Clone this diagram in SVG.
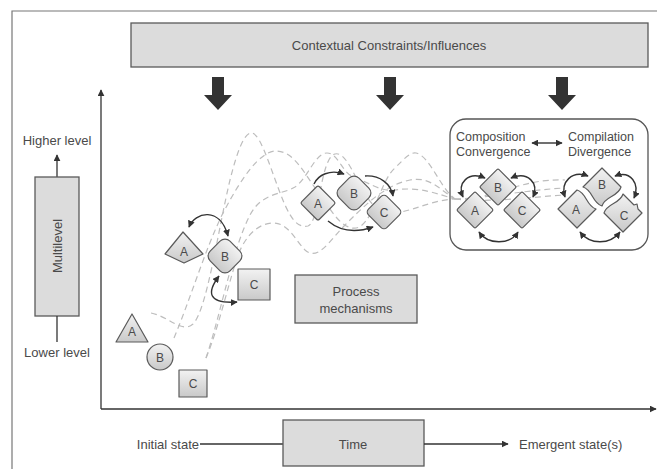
<svg xmlns="http://www.w3.org/2000/svg" width="657" height="469" viewBox="0 0 657 469">
<style>
  text { font-family: "Liberation Sans", Arial, sans-serif; fill: #4a4a4a; }
  .lbl { font-size: 13px; text-anchor: middle; }
  .nl { font-size: 12px; text-anchor: middle; }
  .box { fill: #dcdcdc; stroke: #5a5a5a; stroke-width: 1.3; }
  .node { fill: url(#g); stroke: #5a5a5a; stroke-width: 1.2; stroke-linejoin: round; }
  .dash { fill: none; stroke: #bdbdbd; stroke-width: 1.2; stroke-dasharray: 6 4; }
  .conn { fill: none; stroke: #333; stroke-width: 1.4; }
  .axis { fill: none; stroke: #333; stroke-width: 1.3; }
  .big { fill: #333; }
</style>
<defs>
  <linearGradient id="g" x1="0" y1="0" x2="0" y2="1">
    <stop offset="0" stop-color="#f2f2f2"/>
    <stop offset="1" stop-color="#c9c9c9"/>
  </linearGradient>
  <marker id="ah" viewBox="0 0 10 10" refX="9" refY="5" markerWidth="7" markerHeight="7" markerUnits="userSpaceOnUse" orient="auto-start-reverse">
    <path d="M0,0 L10,5 L0,10 z" fill="#333"/>
  </marker>
</defs>

<!-- outer frame -->
<path d="M12,469 V11 H657" fill="none" stroke="#777" stroke-width="1.2"/>

<g id="context">
  <rect class="box" x="131" y="23" width="517" height="44"/>
  <text class="lbl" x="389" y="49.5">Contextual Constraints/Influences</text>
</g>

<g id="influence-arrows">
  <path class="big" d="M212,77 H224 V95 H232 L218,110 L204,95 H212 Z"/>
  <path class="big" d="M384,77 H396 V95 H404 L390,110 L376,95 H384 Z"/>
  <path class="big" d="M556,77 H568 V95 H576 L562,110 L548,95 H556 Z"/>
</g>

<g id="multilevel">
  <text class="lbl" x="57" y="145">Higher level</text>
  <line class="axis" x1="57" y1="177" x2="57" y2="155" marker-end="url(#ah)"/>
  <rect class="box" x="35" y="177" width="44" height="139"/>
  <text class="lbl" transform="rotate(-90 57 246)" x="57" y="250.5">Multilevel</text>
  <line class="axis" x1="57" y1="316" x2="57" y2="342"/>
  <text class="lbl" x="57" y="356.5">Lower level</text>
</g>

<g id="axes">
  <line class="axis" x1="101" y1="409" x2="101" y2="90" marker-end="url(#ah)"/>
  <line class="axis" x1="101" y1="409" x2="656" y2="409" marker-end="url(#ah)"/>
</g>

<g id="trajectories">
  <path class="dash" d="M151,313 C168,316 182,334 193,324 C207,310 218,230 230,180 C238,148 245,132 252,133 C262,135 272,175 285,205 C292,220 298,228 308,226 C320,222 320,158 335,154 C350,150 360,200 380,210 C400,220 425,200 455,199"/>
  <path class="dash" d="M174,338 C190,300 205,250 222,215 C240,180 260,150 277,151 C295,152 305,175 318,192 C330,208 338,225 352,228 C372,232 380,180 395,168 C405,158 410,152 416,153 C430,156 440,188 455,199"/>
  <path class="dash" d="M206,358 C218,330 228,285 238,255 C246,235 258,224 272,223 C288,222 295,240 305,250 C318,262 330,240 345,225 C365,205 385,185 410,180 C430,176 440,190 455,199"/>
  <path class="dash" d="M206,358 C222,310 232,250 250,215 C262,192 282,195 295,187 C308,178 315,153 327,153 C338,153 342,172 352,176 C368,182 380,192 395,190 C420,186 440,195 455,199"/>
  <path class="dash" d="M455,199 C490,201 520,178 565,180"/>
  <path class="dash" d="M455,199 C490,198 525,190 565,188"/>
  <path class="dash" d="M455,199 C490,203 530,197 565,195"/>
</g>

<g id="process">
  <rect class="box" x="295" y="275" width="122" height="48"/>
  <text class="lbl" x="356" y="296">Process</text>
  <text class="lbl" x="356" y="313">mechanisms</text>
</g>

<g id="time">
  <text font-size="13" text-anchor="end" x="199" y="448.5">Initial state</text>
  <line class="axis" x1="200" y1="444" x2="283" y2="444"/>
  <rect class="box" x="283" y="420" width="141" height="46"/>
  <text class="lbl" x="353" y="448.5">Time</text>
  <line class="axis" x1="424" y1="444" x2="508" y2="444" marker-end="url(#ah)"/>
  <text font-size="13" x="519" y="448.5">Emergent state(s)</text>
</g>

<!-- stage 1 nodes -->
<g id="s1-A">
  <path class="node" d="M132,314 L148,342 L116,342 Z"/>
  <text class="nl" x="132" y="336">A</text>
</g>
<g id="s1-B">
  <circle class="node" cx="160" cy="357" r="13"/>
  <text class="nl" x="160" y="361.5">B</text>
</g>
<g id="s1-C">
  <rect class="node" x="179" y="370" width="28" height="27"/>
  <text class="nl" x="193" y="388">C</text>
</g>

<!-- stage 2 nodes -->
<g id="s2-A">
  <path class="node" d="M183,232 L203,254 L184,263 L165,254 Z"/>
  <text class="nl" x="184" y="256">A</text>
</g>
<g id="s2-B">
  <rect class="node" x="211" y="242" width="28" height="28" rx="7" transform="rotate(45 225 256)"/>
  <text class="nl" x="225" y="260.5">B</text>
</g>
<g id="s2-C">
  <rect class="node" x="238" y="269" width="32" height="31"/>
  <text class="nl" x="254" y="289">C</text>
</g>

<!-- stage 3 nodes -->
<g id="s3-A">
  <rect class="node" x="305.5" y="190.5" width="25" height="25" rx="2" transform="rotate(45 318 203)"/>
  <text class="nl" x="318" y="207.5">A</text>
</g>
<g id="s3-B">
  <rect class="node" x="340" y="179" width="28" height="28" rx="7" transform="rotate(45 354 193)"/>
  <text class="nl" x="354" y="197.5">B</text>
</g>
<g id="s3-C">
  <rect class="node" x="371" y="199" width="26" height="26" rx="4" transform="rotate(45 384 212)"/>
  <text class="nl" x="384" y="216.5">C</text>
</g>

<!-- emergent box -->
<g id="emergent">
  <rect x="450" y="119" width="198" height="131" rx="16" fill="#fff" fill-opacity="0" stroke="#555" stroke-width="1.3"/>
  <text font-size="12.5" x="456" y="141">Composition</text>
  <text font-size="12.5" x="456" y="156">Convergence</text>
  <text font-size="12.5" x="568" y="141">Compilation</text>
  <text font-size="12.5" x="568" y="156">Divergence</text>
</g>

<g id="comp-A">
  <rect class="node" x="462" y="197" width="26" height="26" rx="1.5" transform="rotate(45 475 210)"/>
  <text class="nl" x="475" y="214.5">A</text>
</g>
<g id="comp-B">
  <rect class="node" x="485" y="174" width="26" height="26" rx="1.5" transform="rotate(45 498 187)"/>
  <text class="nl" x="498" y="191.5">B</text>
</g>
<g id="comp-C">
  <rect class="node" x="509" y="197" width="26" height="26" rx="1.5" transform="rotate(45 522 210)"/>
  <text class="nl" x="522" y="214.5">C</text>
</g>

<g id="compil-A">
  <path class="node" d="M577,190 C586.9,192.8 586.1,206.2 596,209 L577,228 L558,209 Z"/>
  <text class="nl" x="576" y="214">A</text>
</g>
<g id="compil-B">
  <path class="node" d="M602,168 L621,187 C618.2,196.9 604.8,196.1 602,206 C592.1,203.2 592.9,189.8 583,187 Z"/>
  <text class="nl" x="602" y="189">B</text>
</g>
<g id="compil-C">
  <path class="node" d="M623,194 L634,205 L637,204 L638,209 L642,213 L623,232 L604,213 C606.8,203.1 620.2,203.9 623,194 Z"/>
  <text class="nl" x="624" y="220">C</text>
</g>

<g id="connectors">
  <path class="conn" d="M189,227 C195,212 220,206 228,236" marker-start="url(#ah)" marker-end="url(#ah)"/>
  <path class="conn" d="M219,276 C207,292 207,304 237,302" marker-start="url(#ah)" marker-end="url(#ah)"/>
  <path class="conn" d="M314,184 C318,175 330,169 344,174" marker-end="url(#ah)"/>
  <path class="conn" d="M365,176 C380,175 391,184 393,196" marker-end="url(#ah)"/>
  <path class="conn" d="M328,221 C340,231 356,233 373,227" marker-end="url(#ah)"/>
  <path class="conn" d="M532,143 H562" marker-start="url(#ah)" marker-end="url(#ah)"/>
  <path class="conn" d="M485,178 C468,171 457,183 463,197" marker-start="url(#ah)" marker-end="url(#ah)"/>
  <path class="conn" d="M511,178 C528,171 539,183 533,197" marker-start="url(#ah)" marker-end="url(#ah)"/>
  <path class="conn" d="M479,232 C488,245 510,245 518,232" marker-start="url(#ah)" marker-end="url(#ah)"/>
  <path class="conn" d="M588,176 C572,170 560,182 565,197" marker-start="url(#ah)" marker-end="url(#ah)"/>
  <path class="conn" d="M615,176 C631,170 640,184 634,198" marker-start="url(#ah)" marker-end="url(#ah)"/>
  <path class="conn" d="M580,232 C590,245 610,245 620,232" marker-start="url(#ah)" marker-end="url(#ah)"/>
</g>
</svg>
